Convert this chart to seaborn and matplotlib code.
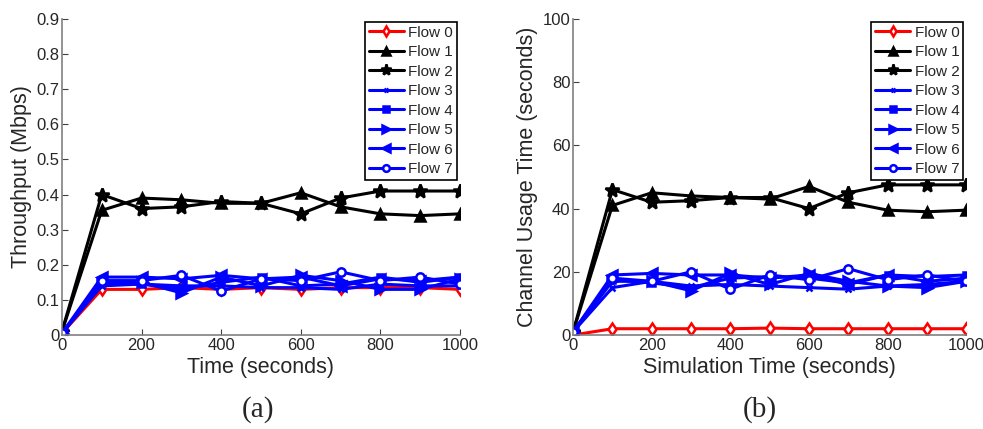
import numpy as np
import pandas as pd
import matplotlib
matplotlib.use("Agg")
import matplotlib.pyplot as plt
import seaborn as sns

sns.set_style("white")
plt.rcParams["font.family"] = ["Liberation Sans", "DejaVu Sans"]

times = [0, 100, 200, 300, 400, 500, 600, 700, 800, 900, 1000]
flow_names = ["Flow 0", "Flow 1", "Flow 2", "Flow 3", "Flow 4", "Flow 5", "Flow 6", "Flow 7"]

# Throughput per flow (Mbps)
thr_flow0 = [0.005, 0.13, 0.13, 0.135, 0.13, 0.135, 0.13, 0.135, 0.135, 0.135, 0.13]
thr_flow1 = [0.01, 0.355, 0.39, 0.385, 0.375, 0.375, 0.405, 0.365, 0.345, 0.34, 0.345]
thr_flow2 = [0.01, 0.40, 0.36, 0.365, 0.38, 0.375, 0.345, 0.39, 0.41, 0.41, 0.41]
thr_flow3 = [0.005, 0.14, 0.145, 0.14, 0.14, 0.135, 0.135, 0.13, 0.145, 0.14, 0.14]
thr_flow4 = [0.005, 0.15, 0.145, 0.13, 0.15, 0.165, 0.14, 0.145, 0.165, 0.15, 0.165]
thr_flow5 = [0.005, 0.145, 0.15, 0.12, 0.165, 0.14, 0.17, 0.155, 0.13, 0.13, 0.16]
thr_flow6 = [0.005, 0.165, 0.165, 0.16, 0.17, 0.16, 0.165, 0.14, 0.16, 0.155, 0.165]
thr_flow7 = [0.005, 0.155, 0.155, 0.17, 0.125, 0.16, 0.155, 0.18, 0.155, 0.165, 0.145]

# Channel usage time per flow (seconds)
use_flow0 = [0.0, 2.0, 2.0, 2.0, 2.0, 2.2, 2.0, 2.0, 2.0, 2.0, 2.0]
use_flow1 = [1.0, 41, 45, 44, 43.5, 43, 47, 42, 39.5, 39, 39.5]
use_flow2 = [1.0, 46, 42, 42.5, 43.5, 43.5, 40, 45, 47.5, 47.5, 47.5]
use_flow3 = [1.0, 15, 17, 15.5, 16, 15.5, 15, 14.5, 15.5, 16, 17]
use_flow4 = [1.0, 17.5, 16.5, 15, 18, 18.5, 18, 16.5, 19, 18.5, 19]
use_flow5 = [1.0, 17, 17, 14, 19.5, 16, 19.5, 17, 15.5, 15, 17]
use_flow6 = [1.0, 19, 19.5, 19, 19, 18, 19, 16, 19, 17, 18]
use_flow7 = [1.0, 18, 17, 20, 14.5, 19, 17.5, 21, 17.5, 19, 17]

throughput = [thr_flow0, thr_flow1, thr_flow2, thr_flow3, thr_flow4, thr_flow5, thr_flow6, thr_flow7]
usage = [use_flow0, use_flow1, use_flow2, use_flow3, use_flow4, use_flow5, use_flow6, use_flow7]

colors = ["#ff0000", "black", "black", "#0000ff", "#0000ff", "#0000ff", "#0000ff", "#0000ff"]
markers = ["d", "^", "*", "x", "s", ">", "<", "o"]
msizes = [6, 7, 10, 4, 5, 7, 7, 6]
hollow = [True, False, False, False, False, False, False, True]


def to_frame(series):
    rows = []
    for name, vals in zip(flow_names, series):
        for t, v in zip(times, vals):
            rows.append({"Flow": name, "Time": t, "Value": v})
    return pd.DataFrame(rows)


def draw(ax, df, ylim, yticks, yticklabels, ylabel, xlabel):
    for i, name in enumerate(flow_names):
        sub = df[df["Flow"] == name]
        sns.lineplot(
            data=sub, x="Time", y="Value", ax=ax, color=colors[i],
            marker=markers[i], markersize=msizes[i], linewidth=2.2,
            markerfacecolor=("white" if hollow[i] else colors[i]),
            markeredgecolor=colors[i], markeredgewidth=1.8,
            label=name,
        )
    ax.set_xlim(0, 1000)
    ax.set_ylim(*ylim)
    ax.set_xticks(times[::2])
    ax.set_xticklabels([str(t) for t in times[::2]])
    ax.set_yticks(yticks)
    ax.set_yticklabels(yticklabels)
    ax.set_xlabel(xlabel, fontsize=15.5, labelpad=3)
    ax.set_ylabel(ylabel, fontsize=15.5, labelpad=3)
    for side in ("top", "right"):
        ax.spines[side].set_visible(False)
    for side in ("left", "bottom"):
        ax.spines[side].set_color("#808080")
        ax.spines[side].set_linewidth(1.2)
    ax.tick_params(direction="in", length=4, width=0.8, color="#404040",
                   labelsize=12, pad=2, left=True, bottom=True)
    for lab in ax.get_xticklabels() + ax.get_yticklabels():
        lab.set_clip_on(False)
    leg = ax.legend(loc="upper right", fontsize=11, frameon=True, fancybox=False,
                    edgecolor="black", framealpha=1, handlelength=2.3,
                    markerscale=0.8, borderpad=0.25, labelspacing=0.36,
                    handletextpad=0.3, borderaxespad=0.2)
    leg.get_frame().set_linewidth(1.2)


fig = plt.figure(figsize=(9.83, 4.29), dpi=100)
ax1 = fig.add_axes([0.063, 0.219, 0.405, 0.737])
ax2 = fig.add_axes([0.583, 0.219, 0.400, 0.737])

thr_ticks = [0, 0.1, 0.2, 0.3, 0.4, 0.5, 0.6, 0.7, 0.8, 0.9]
thr_labels = ["0", "0.1", "0.2", "0.3", "0.4", "0.5", "0.6", "0.7", "0.8", "0.9"]
use_ticks = [0, 20, 40, 60, 80, 100]
use_labels = ["0", "20", "40", "60", "80", "100"]

draw(ax1, to_frame(throughput), (0, 0.9), thr_ticks, thr_labels,
     "Throughput (Mbps)", "Time (seconds)")
draw(ax2, to_frame(usage), (0, 100), use_ticks, use_labels,
     "Channel Usage Time (seconds)", "Simulation Time (seconds)")

fig.text(0.262, 0.015, "(a)", ha="center", va="bottom", fontsize=21,
         family=["Liberation Serif", "DejaVu Serif"])
fig.text(0.773, 0.015, "(b)", ha="center", va="bottom", fontsize=21,
         family=["Liberation Serif", "DejaVu Serif"])

fig.savefig("out.png", dpi=100)
